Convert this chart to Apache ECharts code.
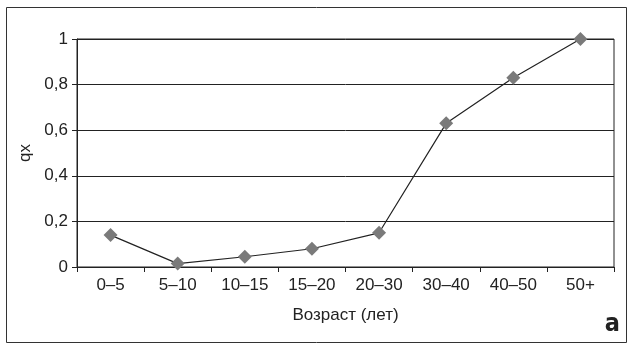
<!DOCTYPE html>
<html><head><meta charset="utf-8">
<script src="https://cdn.jsdelivr.net/npm/echarts@6/dist/echarts.min.js"></script>
<style>html,body{margin:0;padding:0;background:#fff}#c{width:628px;height:345px}</style>
</head><body><div id="c"></div>
<script>
const categories = ['0–5','5–10','10–15','15–20','20–30','30–40','40–50','50+'];
const qxValues = [0.14, 0.015, 0.045, 0.08, 0.15, 0.63, 0.83, 1.0];
const yTicks = [0, 0.2, 0.4, 0.6, 0.8, 1];
const xTitle = 'Возраст (лет)';
const yTitle = 'qx';
const panelLabel = 'а';

const FONT = '"Liberation Sans Narrow", "Arial Narrow", "Liberation Sans", sans-serif';
const chart = echarts.init(document.getElementById('c'), null, {renderer:'canvas'});
chart.setOption({
  animation:false,
  backgroundColor:'#fff',
  graphic:[
    {type:'rect', shape:{x:6.5,y:7.5,width:620,height:335}, style:{fill:'none',stroke:'#333',lineWidth:1}, z:-1},
    {type:'text', right:8, bottom:8, style:{text:panelLabel, font:'bold 25px "DejaVu Sans Condensed", '+FONT, fill:'#222'}}
  ],
  grid:{left:77, right:14, top:39, bottom:78, show:true, borderColor:'#222', borderWidth:1, backgroundColor:'transparent'},
  xAxis:{
    type:'category', data:categories, boundaryGap:true,
    name:xTitle, nameLocation:'middle', nameGap:40,
    nameTextStyle:{fontFamily:FONT, fontSize:17, color:'#222'},
    axisLine:{lineStyle:{color:'#222', width:1}},
    axisTick:{show:true, alignWithLabel:false, length:5, lineStyle:{color:'#222'}},
    axisLabel:{fontFamily:FONT, fontSize:17, color:'#222', margin:10}
  },
  yAxis:{
    type:'value', min:0, max:1, interval:0.2,
    name:yTitle, nameLocation:'middle', nameGap:42, nameRotate:90,
    nameTextStyle:{fontFamily:FONT, fontSize:17, color:'#222'},
    axisLine:{show:true, lineStyle:{color:'#222', width:1}},
    axisTick:{show:true, length:5, lineStyle:{color:'#222'}},
    splitLine:{show:true, lineStyle:{color:'#222', width:1}},
    axisLabel:{fontFamily:FONT, fontSize:17, color:'#222', margin:9,
      formatter:v=>{const t=yTicks.find(x=>Math.abs(x-v)<1e-9);return (t===undefined?v:t).toString().replace('.',',');}}
  },
  series:[{
    type:'line', data:qxValues,
    symbol:'diamond', symbolSize:14,
    itemStyle:{color:'#7a7a7a'},
    lineStyle:{color:'#222', width:1.2}
  }]
});
</script></body></html>
